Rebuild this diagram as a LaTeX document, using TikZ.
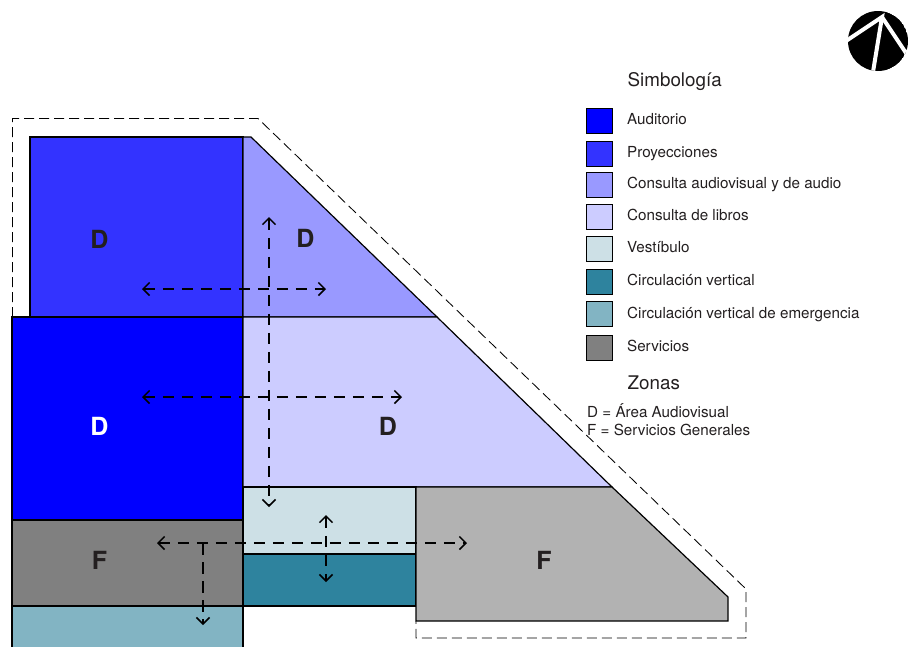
\documentclass[tikz,border=0pt]{standalone}
\usepackage{fontspec}
\setmainfont{TeX Gyre Heros}
\usetikzlibrary{positioning,arrows.meta}
\definecolor{proyeccion}{HTML}{3333FF}
\definecolor{audiovisual}{HTML}{9999FF}
\definecolor{auditorio}{HTML}{0000FF}
\definecolor{libros}{HTML}{CCCCFF}
\definecolor{vestibulo}{HTML}{CDE0E6}
\definecolor{circvert}{HTML}{2E839E}
\definecolor{circemerg}{HTML}{82B4C3}
\definecolor{servicio}{HTML}{808080}
\definecolor{serviciogral}{HTML}{B2B2B2}
\definecolor{letra}{HTML}{231F20}
\tikzset{
	room/.style={draw=black,line width=1.2pt,line join=miter},
	zona/.style={font=\fontsize{25}{25}\selectfont\bfseries,text=letra,inner sep=0pt},
	flujo/.style={dash pattern=on 11.5pt off 7.5pt,line width=1.5pt,{Straight Barb[length=6.5pt,width=13pt]}-{Straight Barb[length=6.5pt,width=13pt]}},
	limite/.style={draw=black,line width=.85pt,dash pattern=on 10pt off 5pt},
	swatch/.style={draw=black,line width=.9pt,minimum width=26pt,minimum height=25pt,inner sep=0pt},
	etiqueta/.style={font=\fontsize{15.2}{16}\selectfont,text=letra,inner sep=0pt,text height=12pt,text depth=4pt,yshift=.4pt},
	nota/.style={font=\fontsize{15.2}{16}\selectfont,text=letra,inner sep=0pt,anchor=base west},
	titulo/.style={font=\fontsize{18.8}{20}\selectfont,text=letra,inner sep=0pt,anchor=base west},
}
\begin{document}
\begin{tikzpicture}[x=1pt,y=-1pt]
	\useasboundingbox (0,0) rectangle (908,646);
	\clip (0,0) rectangle (908,646);

	% limite del edificio
	\draw[limite] (12.5,317) -- (12.5,118.5) -- (258,118.5) -- (746,589) -- (746,638) -- (416,638) -- (416,621);

	% locales
	\draw[room,fill=proyeccion] (30,317) -- (30,137) -- (243,137) -- (243,317) -- cycle;
	\draw[room,fill=audiovisual] (243,137) -- (251,137) -- (437,317) -- (243,317) -- cycle;
	\draw[room,fill=auditorio] (12,317) rectangle (243,520);
	\draw[room,fill=libros] (243,317) -- (437,317) -- (612,487) -- (243,487) -- cycle;
	\draw[room,fill=vestibulo] (243,487) rectangle (416,554);
	\draw[room,fill=circvert] (243,554) rectangle (416,606);
	\draw[room,fill=servicio] (12,520) rectangle (243,606);
	\draw[room,fill=circemerg] (12,606) rectangle (243,650);
	\draw[room,fill=serviciogral] (416,487) -- (612,487) -- (728,597) -- (728,621) -- (416,621) -- cycle;

	\node[zona] (d1) at (99.5,239) {D};
	\node[zona] (d2) at (305.5,238) {D};
	\node[zona,text=white] (d3) at (99.5,426) {D};
	\node[zona] (d4) at (388,426) {D};
	\node[zona] (f1) at (99.5,560) {F};
	\node[zona] (f2) at (544,560) {F};

	% circulaciones
	\coordinate (h1a) at (142,289);
	\coordinate (h1b) at (326,289);
	\coordinate (h2a) at (142,397);
	\coordinate (h2b) at (402,397);
	\coordinate (v1a) at (269,217);
	\coordinate (v1b) at (269,507);
	\coordinate (v2a) at (326,515);
	\coordinate (v2b) at (326,582);
	\coordinate (h3a) at (157,543);
	\coordinate (h3b) at (467,543);
	\coordinate (v3a) at (203,543);
	\coordinate (v3b) at (203,625);
	\draw[flujo] (h1a) -- (h1b);
	\draw[flujo] (h2a) -- (h2b);
	\draw[flujo] (v1a) -- (v1b);
	\draw[flujo] (v2a) -- (v2b);
	\draw[flujo] (h3a) -- (h3b);
	\draw[flujo,-{Straight Barb[length=6.5pt,width=13pt]}] (v3a) -- (v3b);

	% norte
	\begin{scope}
		\clip (878,41) circle (30);
		\fill[black] (878,41) circle (30);
		\draw[white,line width=4pt] (846,41) -- (882,17) -- (873,72);
		\draw[white,line width=4pt] (882,17) -- (908,56);
	\end{scope}

	% simbologia
	\node[titulo] (simb) at (627.5,86) {Simbología};
	\node[swatch,fill=auditorio] (s1) at (599.5,121) {};
	\node[swatch,fill=proyeccion,below=6.8pt of s1] (s2) {};
	\node[swatch,fill=audiovisual,below=5.4pt of s2] (s3) {};
	\node[swatch,fill=libros,below=5.6pt of s3] (s4) {};
	\node[swatch,fill=vestibulo,below=6.6pt of s4] (s5) {};
	\node[swatch,fill=circvert,below=7pt of s5] (s6) {};
	\node[swatch,fill=circemerg,below=6.6pt of s6] (s7) {};
	\node[swatch,fill=servicio,below=7.6pt of s7] (s8) {};
	\node[etiqueta,right=14pt of s1] (t1) {Auditorio};
	\node[etiqueta,right=14pt of s2] (t2) {Proyecciones};
	\node[etiqueta,right=14pt of s3] (t3) {Consulta audiovisual y de audio};
	\node[etiqueta,right=14pt of s4] (t4) {Consulta de libros};
	\node[etiqueta,right=14pt of s5] (t5) {Vestíbulo};
	\node[etiqueta,right=14pt of s6] (t6) {Circulación vertical};
	\node[etiqueta,right=14pt of s7] (t7) {Circulación vertical de emergencia};
	\node[etiqueta,right=14pt of s8] (t8) {Servicios};
	\node[titulo] (zonas) at (627.5,389.4) {Zonas};
	\node[nota] (zd) at (587,417.3) {D = Área Audiovisual};
	\node[nota] (zf) at (587,435) {F = Servicios Generales};
\end{tikzpicture}
\end{document}
